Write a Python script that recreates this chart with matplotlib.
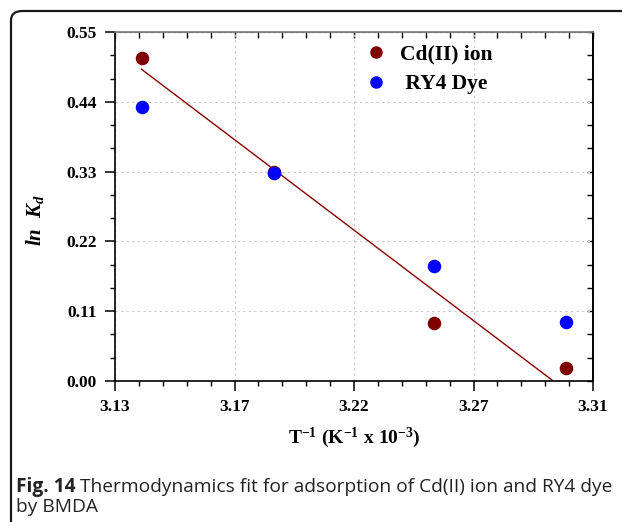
import numpy as np
import matplotlib
matplotlib.use("Agg")
import matplotlib.pyplot as plt
from matplotlib.patches import FancyBboxPatch
from matplotlib.lines import Line2D

# data
inv_T = [3.140, 3.190, 3.250, 3.300]
cd_lnkd = [0.509, 0.330, 0.092, 0.020]
ry4_lnkd = [0.432, 0.328, 0.181, 0.093]

x_ticks = [3.13, 3.175, 3.22, 3.265, 3.31]
x_labels = ['3.13', '3.17', '3.22', '3.27', '3.31']
y_ticks = [0.00, 0.11, 0.22, 0.33, 0.44, 0.55]

serif = 'Liberation Serif'
plt.rcParams['mathtext.fontset'] = 'custom'
plt.rcParams['mathtext.rm'] = serif + ':bold'
plt.rcParams['mathtext.it'] = serif + ':bold:italic'
plt.rcParams['mathtext.bf'] = serif + ':bold'

fig = plt.figure(figsize=(6.22, 5.22), dpi=100)

# rounded frame of the figure panel (open at the bottom and right)
frame = FancyBboxPatch((11 / 622, -0.2), 1.5, 1.2 - 11 / 522,
                       boxstyle="round,pad=0,rounding_size=0.018",
                       transform=fig.transFigure, fill=False,
                       edgecolor='#1a1a1a', linewidth=1.6, clip_on=False)
fig.patches.append(frame)

ax = fig.add_axes([115 / 622, 1 - 381 / 522, 478 / 622, 349 / 522])

# linear fit of the Cd(II) data
slope, icpt = np.polyfit(inv_T, cd_lnkd, 1)
xf = np.array([inv_T[0], 3.31])
ax.plot(xf, slope * xf + icpt, color='#8b0000', lw=1.0, zorder=2)

ax.scatter(inv_T, cd_lnkd, s=95, color='#800000', zorder=3, linewidths=0)
ax.scatter(inv_T, ry4_lnkd, s=95, color='#0000ff', zorder=4, linewidths=0)

ax.set_xlim(3.13, 3.31)
ax.set_ylim(0, 0.55)
ax.set_xticks(x_ticks)
ax.set_xticklabels(x_labels)
ax.set_yticks(y_ticks)
ax.set_yticklabels(['%.2f' % v for v in y_ticks])
ax.set_xticks(np.linspace(3.13, 3.31, 21), minor=True)
ax.set_yticks(np.linspace(0, 0.55, 16), minor=True)

ax.tick_params(which='major', direction='out', length=7, width=1.1, pad=6)
ax.tick_params(which='minor', direction='out', length=3.5, width=1.0)
for lab in ax.get_xticklabels() + ax.get_yticklabels():
    lab.set_fontfamily(serif)
    lab.set_fontweight('bold')
    lab.set_fontsize(12.5)

# inward ticks on top and right
top = ax.secondary_xaxis('top')
top.set_xticks(x_ticks)
top.set_xticks(np.linspace(3.13, 3.31, 21), minor=True)
top.tick_params(which='both', direction='in', length=4, width=1.0, labeltop=False)
right = ax.secondary_yaxis('right')
right.set_yticks(y_ticks)
right.set_yticks(np.linspace(0, 0.55, 16), minor=True)
right.tick_params(which='both', direction='in', length=4, width=1.0, labelright=False)

for sp in list(ax.spines.values()):
    sp.set_linewidth(1.2)
ax.spines['top'].set_color('#777777')
top.spines['top'].set_color('#777777')
right.spines['right'].set_linewidth(1.2)

ax.grid(True, which='major', color='#c8c8c8', linestyle=(0, (2, 3)), linewidth=0.8)

ax.set_xlabel(r'$\mathrm{T^{-1}\ (K^{-1}\ x\ 10^{-3})}$', fontsize=14, labelpad=8)
ax.set_ylabel(r'$ln\ \ K_d$', fontsize=15, labelpad=8)
ax.yaxis.set_label_coords(-0.145, 0.46)

handles = [Line2D([], [], marker='o', ls='none', color='#800000', markersize=8),
           Line2D([], [], marker='o', ls='none', color='#0000ff', markersize=8)]
ax.legend(handles, ['Cd(II) ion', ' RY4 Dye'], loc='upper left',
          bbox_to_anchor=(0.484, 1.02), frameon=False, handlelength=1.0,
          handletextpad=0.6, labelspacing=0.45,
          prop={'family': serif, 'weight': 'bold', 'size': 15.5})

# caption
cap = fig.text(16 / 622, 1 - 492 / 522, 'Fig. 14', fontsize=13.8, fontweight='bold',
               fontfamily='Open Sans', va='baseline', color='#222222')
fig.canvas.draw()
bb = cap.get_window_extent()
fig.text(bb.x1 / fig.bbox.width + 5 / 622, 1 - 492 / 522,
         'Thermodynamics fit for adsorption of Cd(II) ion and RY4 dye',
         fontsize=13.8, fontfamily='Open Sans', va='baseline', color='#222222')
fig.text(16 / 622, 1 - 512 / 522, 'by BMDA', fontsize=13.8,
         fontfamily='Open Sans', va='baseline', color='#222222')

fig.savefig('out.png', dpi=100)
